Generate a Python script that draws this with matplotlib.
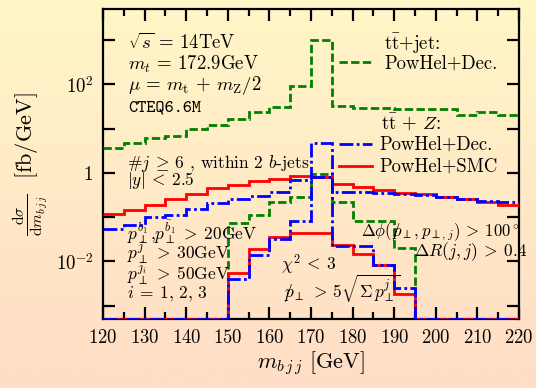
import numpy as np
import matplotlib
matplotlib.use("Agg")
import matplotlib.pyplot as plt
from matplotlib.ticker import FixedLocator, FuncFormatter, MultipleLocator

plt.rcParams['font.family'] = 'cmr10'
plt.rcParams['mathtext.fontset'] = 'cm'
plt.rcParams['axes.unicode_minus'] = False
plt.rcParams['axes.formatter.use_mathtext'] = True

# bin edges (GeV), 5 GeV bins
edges = np.arange(120, 225, 5)

# t tbar + jet, PowHel+Dec. (no extra cuts)
ttj_dec = [3.67, 4.75, 6.17, 6.95, 10.0, 12.0, 16.0, 24.2, 31.4, 93.0,
           980.0, 31.9, 29.3, 29.3, 26.9, 26.9, 26.9, 20.7, 23.4, 20.7]
# t tbar + jet, with chi2 / missing pT / angular cuts
ttj_dec_cut = [0, 0, 0, 0, 0, 0, 0.0755, 0.109, 0.217, 0.287,
               0.916, 0.217, 0.081, 0.081, 0.0196, 0, 0, 0, 0, 0]
# t tbar + Z, PowHel+Dec.
ttz_dec = [0.0544, 0.068, 0.1005, 0.109, 0.156, 0.208, 0.256, 0.307, 0.368, 0.68,
           4.75, 0.372, 0.372, 0.354, 0.336, 0.312, 0.281, 0.259, 0.233, 0.217]
ttz_dec_cut = [0, 0, 0, 0, 0, 0, 0.0039, 0.0143, 0.0324, 0.0807,
               0.80, 0.022, 0.022, 0.0085, 0.0025, 0, 0, 0, 0, 0]
# t tbar + Z, PowHel+SMC
ttz_smc = [0.1145, 0.148, 0.192, 0.259, 0.341, 0.447, 0.544, 0.646, 0.732, 0.838,
           0.796, 0.573, 0.473, 0.405, 0.354, 0.324, 0.281, 0.25, 0.217, 0.192]
ttz_smc_cut = [0, 0, 0, 0, 0, 0, 0.00553, 0.0186, 0.0347, 0.0427,
               0.0427, 0.024, 0.015, 0.0085, 0.0018, 0, 0, 0, 0, 0]

ymin, ymax = 5e-4, 5e3

fig = plt.figure(figsize=(5.36, 3.88), dpi=100)

# gradient background
bg = fig.add_axes([0, 0, 1, 1], zorder=-10)
top = np.array([255, 246, 198]) / 255
bot = np.array([255, 221, 198]) / 255
t = np.linspace(0, 1, 256)[:, None]
grad = top[None, :] * (1 - t) + bot[None, :] * t
bg.imshow(grad[:, None, :], aspect='auto', extent=[0, 1, 0, 1])
bg.axis('off')

ax = fig.add_axes([103 / 536, 1 - 319 / 388, 416 / 536, 310 / 388])
ax.set_facecolor('none')
ax.set_yscale('log')

green = '#008000'
dash_g = (0, (3, 1.2))
dash_b = (0, (5, 1.2, 1, 1.2))


def draw(vals, color, ls):
    v = np.clip(np.asarray(vals, dtype=float), ymin, None)
    ax.stairs(v, edges, color=color, lw=2, linestyle=ls, baseline=None, zorder=3)


draw(ttj_dec, green, dash_g)
draw(ttj_dec_cut, green, dash_g)
draw(ttz_smc, 'red', '-')
draw(ttz_smc_cut, 'red', '-')
draw(ttz_dec, 'blue', dash_b)
draw(ttz_dec_cut, 'blue', dash_b)

ax.set_xlim(120, 220)
ax.set_ylim(ymin, ymax)

ax.xaxis.set_major_locator(MultipleLocator(10))
ax.xaxis.set_minor_locator(MultipleLocator(5))
ax.yaxis.set_major_locator(FixedLocator([1e-3, 1e-2, 1e-1, 1, 1e1, 1e2, 1e3]))
ax.yaxis.set_minor_locator(FixedLocator([]))


def ylab(v, pos):
    e = int(round(np.log10(v)))
    if e % 2:
        return ''
    if e == 0:
        return '$1$'
    return r'$10^{%d}$' % e


ax.yaxis.set_major_formatter(FuncFormatter(ylab))
ax.tick_params(which='both', direction='in', top=True, right=True, width=1.6,
               labelsize=13.5, pad=7)
ax.tick_params(which='major', length=8.5)
ax.tick_params(which='minor', length=5)
for s in ax.spines.values():
    s.set_linewidth(1.6)

ax.set_xlabel(r'$m_{b\,j\,j}$ [GeV]', fontsize=16, labelpad=2)
ax.set_ylabel(r'$\frac{\mathrm{d}\sigma}{\mathrm{d}m_{b\,j\,j}}$  [fb/GeV]', fontsize=16, labelpad=4)

fs = 13.5


def px(x, y):
    return (x - 103) / 416, (319 - y) / 310


def txt(x, y, s, ha='left', **kw):
    kw.setdefault('fontsize', fs)
    ax.text(*px(x, y), s, transform=ax.transAxes, va='center', ha=ha, **kw)


txt(128, 43, r'$\sqrt{s}$ = 14TeV')
txt(128, 64, r'$m_t$ = 172.9GeV')
txt(128, 86, r'$\mu$ = $m_\mathrm{t}$ + $m_\mathrm{Z}/2$')
txt(128, 108, 'CTEQ6.6M', family='cmtt10', fontsize=12.5)

txt(384, 43, r'$\mathrm{t\bar{t}}$+jet:')
txt(384, 64, 'PowHel+Dec.')
txt(381, 122, r'$\mathrm{t\bar{t}}$ + $Z$:')
txt(379, 145, 'PowHel+Dec.')
txt(379, 167, 'PowHel+SMC')

for y, c, ls in [(62, green, dash_g), (144, 'blue', dash_b), (166.5, 'red', '-')]:
    x0, y0 = px(339, y)
    x1, _ = px(372, y)
    ax.plot([x0, x1], [y0, y0], transform=ax.transAxes, color=c, lw=2, linestyle=ls)

fs2 = 12.5
txt(127, 163, r'#$j\:\geq\:6$ , within 2 $b$-jets', fontsize=fs2)
txt(127, 181, r'$|y|\:<\:2.5$', fontsize=fs2)
txt(127, 232, r'$p_\perp^{b_1}$,$p_\perp^{\bar{b}_1}\:>\:20$GeV', fontsize=fs2)
txt(127, 253, r'$p_\perp^{j}\:>\:30$GeV', fontsize=fs2)
txt(127, 274, r'$p_\perp^{j_i}\:>\:50$GeV', fontsize=fs2)
txt(127, 294, r'$i\:=\:1,\,2,\,3$', fontsize=fs2)
txt(281, 265, r'$\chi^2\:<\:3$', fontsize=fs2)
txt(283, 289, r'$/\!\!\!p_\perp\:>\:5\sqrt{\Sigma\, p_\perp^j}$', fontsize=fs2)
txt(520, 232, r'$\Delta\phi(/\!\!\!p_\perp, p_{\perp,j})\:>\:100^\circ$', ha='right', fontsize=12)
txt(414, 252, r'$\Delta R(j,j)\:>\:0.4$', fontsize=fs2)

fig.savefig('out.png', dpi=100)
